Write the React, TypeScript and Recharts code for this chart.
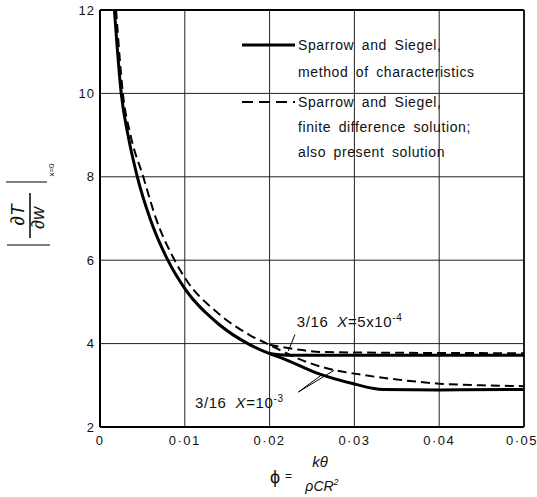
import {
  CartesianGrid,
  Customized,
  Line,
  LineChart,
  ReferenceDot,
  ReferenceLine,
  XAxis,
  YAxis,
} from "recharts";

// x axis: phi = k theta / (rho C R^2)
const phiTicks = [0, 0.01, 0.02, 0.03, 0.04, 0.05];
const phiTickLabels = ["0", "0·01", "0·02", "0·03", "0·04", "0·05"];
const gradTicks = [2, 4, 6, 8, 10, 12];

// Sparrow and Siegel, method of characteristics (solid)
const mocPhi = [0.0017, 0.0025, 0.0033, 0.0044, 0.0059, 0.008, 0.0101, 0.0138, 0.0177, 0.02, 0.0216, 0.0256, 0.03, 0.0334, 0.04, 0.05];
const mocLower = [12, 10, 9, 8, 7, 6, 5.29, 4.5, 3.97, 3.76, 3.64, 3.29, 3.03, 2.9, 2.89, 2.9];
const mocUpperPhi = [0.02, 0.022, 0.03, 0.04, 0.05];
const mocUpper = [3.76, 3.72, 3.72, 3.72, 3.72];

// finite difference solution; also present solution (dashed)
const fdPhi = [0.0019, 0.0027, 0.0036, 0.0051, 0.0066, 0.0088, 0.0101, 0.0138, 0.0177, 0.02, 0.0236, 0.0275, 0.03, 0.0354, 0.04, 0.045, 0.05];
const fdLower = [12, 10, 9, 8, 7, 6, 5.55, 4.75, 4.2, 3.97, 3.62, 3.37, 3.28, 3.13, 3.04, 3.0, 2.98];
const fdUpperPhi = [0.02, 0.0236, 0.026, 0.035, 0.05];
const fdUpper = [3.97, 3.85, 3.8, 3.78, 3.77];

const zip = (xs: number[], ys: number[]) => xs.map((phi, i) => ({ phi, v: ys[i] }));

const FONT = "'Liberation Sans', Arial, sans-serif";

function AnnotText({ viewBox, exp }: any) {
  const { x, y } = viewBox;
  return (
    <text x={x} y={y} fontFamily={FONT} fontSize={15} fill="#111" letterSpacing={0.6}>
      <tspan>3/16</tspan>
      <tspan dx={9} fontStyle="italic">X</tspan>
      <tspan>=</tspan>
      <tspan>{exp === "-4" ? "5x10" : "10"}</tspan>
      <tspan dy={-6} fontSize={10}>{exp}</tspan>
    </text>
  );
}

function Extras() {
  const legendText = { fontFamily: FONT, fontSize: 14, fill: "#111", letterSpacing: 0.6, wordSpacing: 3 };
  return (
    <g>
      {/* legend */}
      <line x1={242} y1={45} x2={295} y2={45} stroke="#000" strokeWidth={3} />
      <text x={298} y={50} {...legendText}>Sparrow and Siegel,</text>
      <text x={298} y={77} {...legendText}>method of characteristics</text>
      <line x1={242} y1={102} x2={295} y2={102} stroke="#000" strokeWidth={1.8} strokeDasharray="11 6" />
      <text x={298} y={107} {...legendText}>Sparrow and Siegel,</text>
      <text x={298} y={132} {...legendText}>finite difference solution;</text>
      <text x={298} y={157} {...legendText}>also present solution</text>

      {/* y axis title |dT/dw| x=0 */}
      <line x1={6} y1={182} x2={47} y2={182} stroke="#000" strokeWidth={1.2} />
      <line x1={7} y1={245} x2={50} y2={245} stroke="#000" strokeWidth={1.2} />
      <line x1={30} y1={193} x2={30} y2={238} stroke="#000" strokeWidth={1.5} />
      <text transform="translate(24, 215) rotate(-90)" textAnchor="middle" fontFamily={FONT} fontSize={19} fill="#111">∂<tspan fontStyle="italic">T</tspan></text>
      <text transform="translate(44, 218) rotate(-90)" textAnchor="middle" fontFamily={FONT} fontSize={18} fill="#111">∂<tspan fontStyle="italic">w</tspan></text>
      <text transform="translate(54, 170) rotate(-90)" textAnchor="middle" fontFamily={FONT} fontSize={8} fill="#111">x=0</text>

      {/* x axis title */}
      <text x={270} y={483} fontFamily={FONT} fontSize={18} fill="#111">ϕ</text>
      <text x={285} y={480} fontFamily={FONT} fontSize={12} fill="#111">=</text>
      <text x={320} y={467} textAnchor="middle" fontFamily={FONT} fontSize={15} fontStyle="italic" fill="#111">kθ</text>
      <text x={322} y={491} textAnchor="middle" fontFamily={FONT} fontSize={14} fontStyle="italic" fill="#111">
        ρCR<tspan dy={-6} fontSize={9}>2</tspan>
      </text>
    </g>
  );
}

export default function App() {
  return (
    <div style={{ position: "absolute", left: 0, top: 0, width: 537, height: 497, background: "#fff" }}>
      <LineChart width={537} height={497} margin={{ top: 10, right: 13, bottom: 0, left: 0 }}>
        <CartesianGrid stroke="#222" strokeWidth={1} />
        <XAxis
          type="number"
          dataKey="phi"
          domain={[0, 0.05]}
          ticks={phiTicks}
          tickFormatter={(_v: number, i: number) => phiTickLabels[i]}
          height={70}
          tickLine={false}
          tickSize={0}
          tickMargin={9}
          axisLine={{ stroke: "#000", strokeWidth: 2 }}
          tick={{ fill: "#111", fontSize: 13, fontFamily: FONT, letterSpacing: 1.5 }}
        />
        <YAxis
          type="number"
          domain={[2, 12]}
          ticks={gradTicks}
          width={100}
          tickLine={false}
          tickSize={0}
          tickMargin={5}
          axisLine={{ stroke: "#000", strokeWidth: 2 }}
          tick={{ fill: "#111", fontSize: 13, fontFamily: FONT, letterSpacing: 1 }}
        />
        <ReferenceLine y={12} stroke="#000" strokeWidth={2} />
        <ReferenceLine x={0.05} stroke="#000" strokeWidth={1.6} />

        <Line data={zip(mocPhi, mocLower)} dataKey="v" type="monotone" stroke="#000" strokeWidth={3} dot={false} isAnimationActive={false} />
        <Line data={zip(mocUpperPhi, mocUpper)} dataKey="v" type="monotone" stroke="#000" strokeWidth={3} dot={false} isAnimationActive={false} />
        <Line data={zip(fdPhi, fdLower)} dataKey="v" type="monotone" stroke="#000" strokeWidth={2} strokeDasharray="9 5" dot={false} isAnimationActive={false} />
        <Line data={zip(fdUpperPhi, fdUpper)} dataKey="v" type="monotone" stroke="#000" strokeWidth={2} strokeDasharray="9 5" dot={false} isAnimationActive={false} />

        {/* annotation pointers */}
        <ReferenceLine segment={[{ x: 0.023, y: 4.22 }, { x: 0.0222, y: 3.82 }]} stroke="#000" strokeWidth={1} />
        <ReferenceLine segment={[{ x: 0.0234, y: 2.84 }, { x: 0.0262, y: 3.26 }]} stroke="#000" strokeWidth={1} />
        <ReferenceLine segment={[{ x: 0.0234, y: 2.84 }, { x: 0.0276, y: 3.36 }]} stroke="#000" strokeWidth={1} />
        <ReferenceDot x={0.0232} y={4.4} r={0} fill="none" stroke="none" label={{ content: (p: any) => <AnnotText viewBox={p.viewBox} exp="-4" /> }} />
        <ReferenceDot x={0.0112} y={2.46} r={0} fill="none" stroke="none" label={{ content: (p: any) => <AnnotText viewBox={p.viewBox} exp="-3" /> }} />

        <Customized component={Extras} />
      </LineChart>
    </div>
  );
}
